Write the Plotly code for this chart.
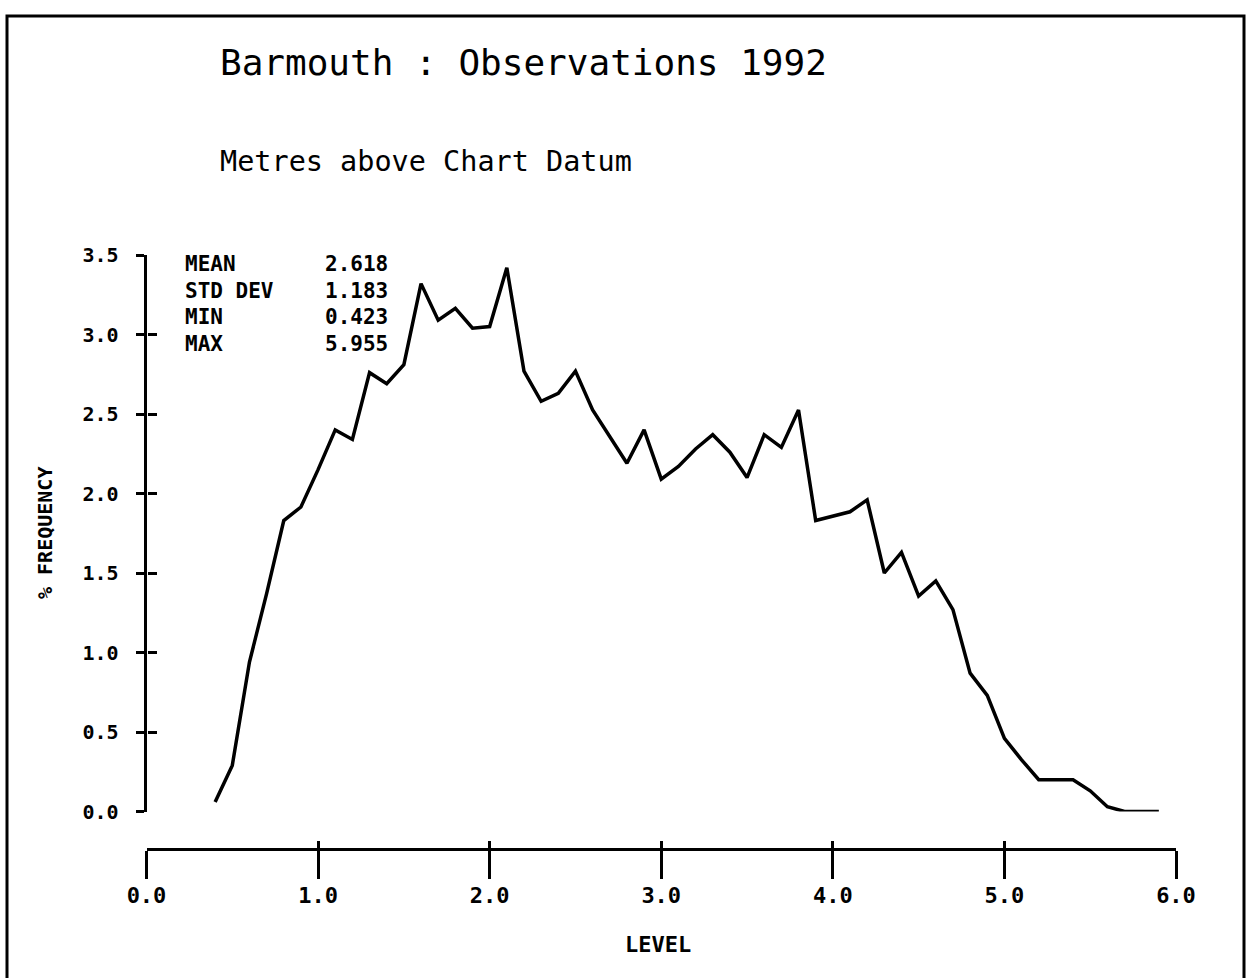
"""Barmouth observations 1992: % frequency of level above chart datum."""
import plotly.graph_objects as go

W, H = 1248, 978

# level (m above chart datum) and % frequency
level = [0.4, 0.5, 0.6, 0.7, 0.8, 0.9, 1.0, 1.1, 1.2, 1.3,
         1.4, 1.5, 1.6, 1.7, 1.8, 1.9, 2.0, 2.1, 2.2, 2.3,
         2.4, 2.5, 2.6, 2.7, 2.8, 2.9, 3.0, 3.1, 3.2, 3.3,
         3.4, 3.5, 3.6, 3.7, 3.8, 3.9, 4.0, 4.1, 4.2, 4.3,
         4.4, 4.5, 4.6, 4.7, 4.8, 4.9, 5.0, 5.1, 5.2, 5.3,
         5.4, 5.5, 5.6, 5.7, 5.8, 5.9]
frequency = [0.06, 0.29, 0.94, 1.37, 1.83, 1.915, 2.15, 2.40, 2.34, 2.76,
             2.69, 2.81, 3.32, 3.09, 3.165, 3.04, 3.05, 3.42, 2.77, 2.58,
             2.63, 2.77, 2.525, 2.36, 2.19, 2.40, 2.09, 2.17, 2.28, 2.37,
             2.26, 2.10, 2.37, 2.29, 2.525, 1.83, 1.86, 1.885, 1.96, 1.50,
             1.63, 1.355, 1.45, 1.27, 0.87, 0.73, 0.46, 0.325, 0.20, 0.20,
             0.20, 0.13, 0.03, 0.0, 0.0, 0.0]

stat_names = ['MEAN', 'STD DEV', 'MIN', 'MAX']
stat_values = [2.618, 1.183, 0.423, 5.955]

title = 'Barmouth : Observations 1992'
subtitle = 'Metres above Chart Datum'

MONO = 'DejaVu Sans Mono'


def px(x):
    """pixel column -> paper x"""
    return x / W


def py(y):
    """pixel row (from top) -> paper y"""
    return 1 - y / H


x_dom = [px(146.5), px(1176)]
y_dom = [py(811.5), py(255)]
x_pos = py(849)

fig = go.Figure()
fig.add_trace(go.Scatter(x=level, y=frequency, mode='lines',
                         line={'color': 'black', 'width': 3.5},
                         cliponaxis=False, showlegend=False))
# twin on the overlay axes so the second set of tick marks is drawn
fig.add_trace(go.Scatter(x=level, y=frequency, mode='lines', xaxis='x2', yaxis='y2',
                         line={'color': 'rgba(0,0,0,0)', 'width': 0},
                         hoverinfo='skip', showlegend=False))

tick_font = {'family': MONO, 'size': 20, 'color': 'black', 'weight': 'bold'}
fig.update_layout(
    width=W, height=H,
    margin={'l': 0, 'r': 0, 't': 0, 'b': 0},
    paper_bgcolor='white', plot_bgcolor='white',
    showlegend=False,
    xaxis={'domain': x_dom, 'range': [0, 6], 'dtick': 1, 'tick0': 0,
           'tickformat': '.1f', 'anchor': 'free', 'position': x_pos,
           'showline': True, 'linecolor': 'black', 'linewidth': 3,
           'ticks': 'outside', 'ticklen': 28, 'tickwidth': 3, 'tickcolor': 'black',
           'ticklabelstandoff': -2,
           'tickfont': dict(tick_font, size=22),
           'showgrid': False, 'zeroline': False, 'automargin': False},
    yaxis={'domain': y_dom, 'range': [0, 3.5], 'dtick': 0.5, 'tick0': 0,
           'tickformat': '.1f', 'anchor': 'x',
           'showline': True, 'linecolor': 'black', 'linewidth': 3,
           'ticks': 'outside', 'ticklen': 8, 'tickwidth': 3, 'tickcolor': 'black',
           'ticklabelstandoff': 13, 'tickfont': tick_font,
           'showgrid': False, 'zeroline': False, 'automargin': False},
    xaxis2={'domain': x_dom, 'range': [0, 6], 'dtick': 1, 'tick0': 0,
            'overlaying': 'x', 'anchor': 'free', 'position': x_pos,
            'showline': False, 'ticks': 'inside', 'ticklen': 8, 'tickwidth': 3,
            'tickcolor': 'black', 'showticklabels': False,
            'showgrid': False, 'zeroline': False, 'automargin': False},
    yaxis2={'domain': y_dom, 'range': [0, 3.5], 'dtick': 0.5, 'tick0': 0,
            'overlaying': 'y', 'anchor': 'free', 'position': x_dom[0], 'side': 'left',
            'showline': False, 'ticks': 'inside', 'ticklen': 9, 'tickwidth': 3,
            'tickcolor': 'black', 'showticklabels': False,
            'showgrid': False, 'zeroline': False, 'automargin': False},
)

# frame round the sheet (no bottom edge)
fig.add_shape(type='path', xref='paper', yref='paper',
              path=f'M {px(7)},-0.02 L {px(7)},{py(16)} L {px(1244)},{py(16)} L {px(1244)},-0.02',
              line={'color': 'black', 'width': 3})

fig.add_annotation(text=title, x=px(218), y=py(62), xref='paper', yref='paper',
                   xanchor='left', yanchor='middle', showarrow=False,
                   font={'family': MONO, 'size': 36, 'color': 'black'})
fig.add_annotation(text=subtitle, x=px(218), y=py(162), xref='paper', yref='paper',
                   xanchor='left', yanchor='middle', showarrow=False,
                   font={'family': MONO, 'size': 28.5, 'color': 'black'})

stat_font = {'family': MONO, 'size': 21, 'color': 'black', 'weight': 'bold'}
for i, (name, value) in enumerate(zip(stat_names, stat_values)):
    row = py(264 + 26.5 * i)
    fig.add_annotation(text=name, x=px(183), y=row, xref='paper', yref='paper',
                       xanchor='left', yanchor='middle', showarrow=False, font=stat_font)
    fig.add_annotation(text=f'{value:.3f}', x=px(390), y=row, xref='paper', yref='paper',
                       xanchor='right', yanchor='middle', showarrow=False, font=stat_font)

# axis titles
fig.add_annotation(text='LEVEL', x=px(658), y=py(944), xref='paper', yref='paper',
                   xanchor='center', yanchor='middle', showarrow=False,
                   font={'family': MONO, 'size': 22, 'color': 'black', 'weight': 'bold'})
fig.add_annotation(text='% FREQUENCY', x=px(45), y=py(533), xref='paper', yref='paper',
                   xanchor='center', yanchor='middle', showarrow=False, textangle=-90,
                   font={'family': MONO, 'size': 20, 'color': 'black', 'weight': 'bold'})

# the page's default body margin would push the figure 8px right and down
fig.write_html('out.html', config={'displayModeBar': False},
               post_script="document.body.style.margin='0';document.body.style.overflow='hidden';")
